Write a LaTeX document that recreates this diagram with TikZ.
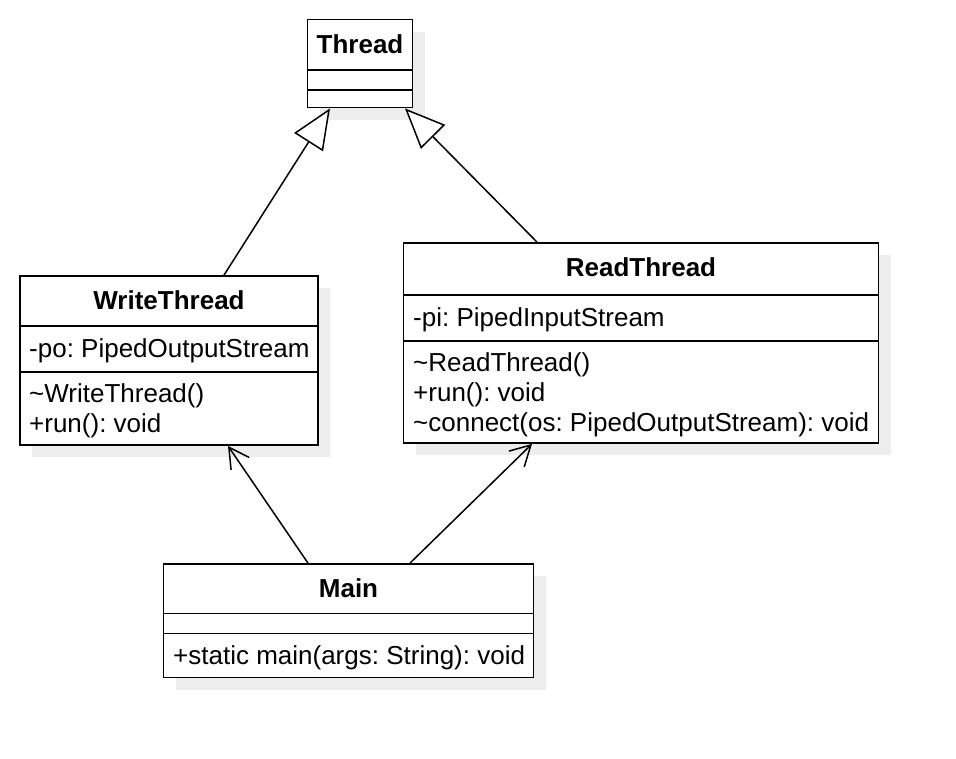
\documentclass[tikz,border=0pt]{standalone}
\usepackage{fontspec}
\setmainfont{Liberation Sans}
\usetikzlibrary{arrows.meta,shadows}
\frenchspacing
\begin{document}
\begin{tikzpicture}[x=1pt,y=-1pt,
 cls/.style={draw, line width=1.8pt, fill=white, inner sep=0pt,
   drop shadow={shadow xshift=12pt, shadow yshift=-12pt, fill=black!7, opacity=1}},
 ttl/.style={font=\fontsize{26}{30}\selectfont\bfseries, inner sep=0pt, text height=18.6pt, text depth=0pt},
 mem/.style={font=\fontsize{26}{30}\selectfont, inner sep=0pt, text height=18.6pt, text depth=0pt, anchor=west},
 sep/.style={line width=1.8pt},
 gen/.style={line width=1.5pt, -{Triangle[open, length=40pt, width=34pt, fill=white]}},
 dep/.style={line width=1.5pt, -{Straight Barb[length=20pt, width=22pt]}}
]
\useasboundingbox (0,0) rectangle (956,758);
\fill[white] (0,0) rectangle (956,758);

% Thread
\node[cls, minimum width=105pt, minimum height=88pt] (thread) at (360,63.5) {};
\node[ttl] (threadT) at (360,44) {Thread};
\draw[sep] (thread.west |- 0,70) -- (thread.east |- 0,70);
\draw[sep] (thread.west |- 0,90) -- (thread.east |- 0,90);

% WriteThread
\node[cls, minimum width=298pt, minimum height=169pt] (write) at (169,360.5) {};
\node[ttl] (writeT) at (169,300) {WriteThread};
\draw[sep] (write.west |- 0,326) -- (write.east |- 0,326);
\node[mem] (writeA) at (29,348) {-po: PipedOutputStream};
\draw[sep] (write.west |- 0,372) -- (write.east |- 0,372);
\node[mem] (writeM1) at (29,393) {\textasciitilde WriteThread()};
\node[mem] (writeM2) at (29,423) {+run(): void};

% ReadThread
\node[cls, minimum width=475pt, minimum height=200pt] (read) at (641,343) {};
\node[ttl] (readT) at (641,267) {ReadThread};
\draw[sep] (read.west |- 0,295) -- (read.east |- 0,295);
\node[mem] (readA) at (413,317) {-pi: PipedInputStream};
\draw[sep] (read.west |- 0,341) -- (read.east |- 0,341);
\node[mem] (readM1) at (413,362) {\textasciitilde ReadThread()};
\node[mem] (readM2) at (413,392) {+run(): void};
\node[mem] (readM3) at (413,422) {\textasciitilde connect(os: PipedOutputStream): void};

% Main
\node[cls, minimum width=370pt, minimum height=113.5pt] (main) at (348.5,620.75) {};
\node[ttl] (mainT) at (348.5,588) {Main};
\draw[sep] (main.west |- 0,613.5) -- (main.east |- 0,613.5);
\draw[sep] (main.west |- 0,633.5) -- (main.east |- 0,633.5);
\node[mem] (mainM) at (173,655) {+static main(args: String): void};

% connectors
\draw[gen] ([xshift=55pt]write.north) -- ([xshift=-30pt]thread.south);
\draw[gen] ([xshift=-104pt]read.north) -- ([xshift=45pt]thread.south);
\draw[dep] ([xshift=-40.5pt]main.north) -- ([xshift=59pt]write.south);
\draw[dep] ([xshift=61.5pt]main.north) -- ([xshift=-109pt]read.south);
\end{tikzpicture}
\end{document}
